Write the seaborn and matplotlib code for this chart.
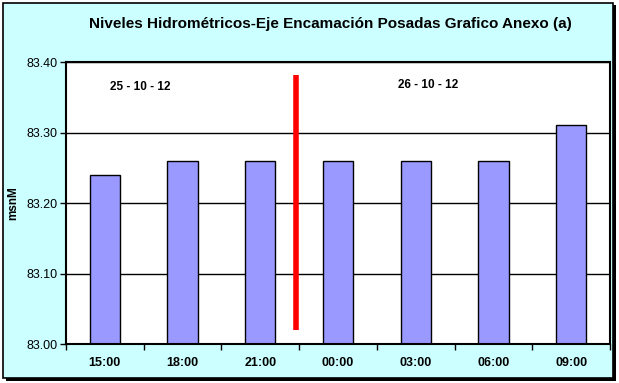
import seaborn as sns
import matplotlib.pyplot as plt
import matplotlib.patches as mpatches
import pandas as pd

# Datos
horas = ['15:00', '18:00', '21:00', '00:00', '03:00', '06:00', '09:00']
niveles = [83.24, 83.26, 83.26, 83.26, 83.26, 83.26, 83.31]
fechas = ['25 - 10 - 12', '26 - 10 - 12']
y_ticks = [83.00, 83.10, 83.20, 83.30, 83.40]

df = pd.DataFrame({'hora': horas, 'nivel': niveles})

sns.set_style('white')
plt.rcParams['font.family'] = ['Liberation Sans', 'DejaVu Sans']
plt.rcParams['text.color'] = 'black'
plt.rcParams['xtick.color'] = 'black'
plt.rcParams['ytick.color'] = 'black'
plt.rcParams['axes.labelcolor'] = 'black'

fig = plt.figure(figsize=(6.19, 3.83), dpi=100)
fig.patch.set_facecolor('white')

# Marco con sombra
fig.patches.append(mpatches.Rectangle((0.009, 0.004), 0.986, 0.982, transform=fig.transFigure,
                                      facecolor='black', edgecolor='none', zorder=0))
fig.patches.append(mpatches.Rectangle((0.005, 0.014), 0.986, 0.978, transform=fig.transFigure,
                                      facecolor='#CCFFFF', edgecolor='black', linewidth=1.2, zorder=1))

ax = fig.add_axes([0.1066, 0.1018, 0.8789, 0.7363])
ax.set_zorder(3)
ax.set_facecolor('white')

sns.barplot(data=df, x='hora', y='nivel', order=horas, color='#9999FF',
            saturation=1, width=0.39, edgecolor='black', linewidth=1, ax=ax)

ax.set_ylim(83.00, 83.40)
ax.set_xlim(-0.5, len(horas) - 0.5)
ax.set_yticks(y_ticks)
ax.set_yticklabels([f'{v:.2f}' for v in y_ticks], fontsize=9)
ax.set_xticks(range(len(horas)))
ax.set_xticklabels(horas, fontsize=9, fontweight='bold')
ax.set_xticks([i - 0.5 for i in range(len(horas) + 1)], minor=True)
ax.tick_params(axis='x', which='major', length=0, pad=9)
ax.tick_params(axis='x', which='minor', length=4, direction='out', color='black', width=1, bottom=True)
ax.tick_params(axis='y', length=4, direction='out', color='black', width=1, left=True, pad=2)
ax.set_axisbelow(True)
ax.yaxis.grid(True, color='black', linewidth=1)
for s in ax.spines.values():
    s.set_color('black')
    s.set_linewidth(1.5)

ax.set_xlabel('')
ax.set_ylabel('msnM', fontsize=8.5, fontweight='bold', labelpad=5)

# Separador de fechas
ax.plot([2.46, 2.46], [83.02, 83.382], color='#FF0000', linewidth=4, solid_capstyle='butt')
ax.text(0.45, 83.365, fechas[0], fontsize=8.5, fontweight='bold', ha='center', va='center')
ax.text(4.16, 83.367, fechas[1], fontsize=8.5, fontweight='bold', ha='center', va='center')

fig.text(0.533, 0.937, 'Niveles Hidrométricos-Eje Encamación Posadas Grafico Anexo (a)',
         fontsize=11, fontweight='bold', ha='center', va='center')

fig.savefig('out.png', dpi=100, facecolor='white')
